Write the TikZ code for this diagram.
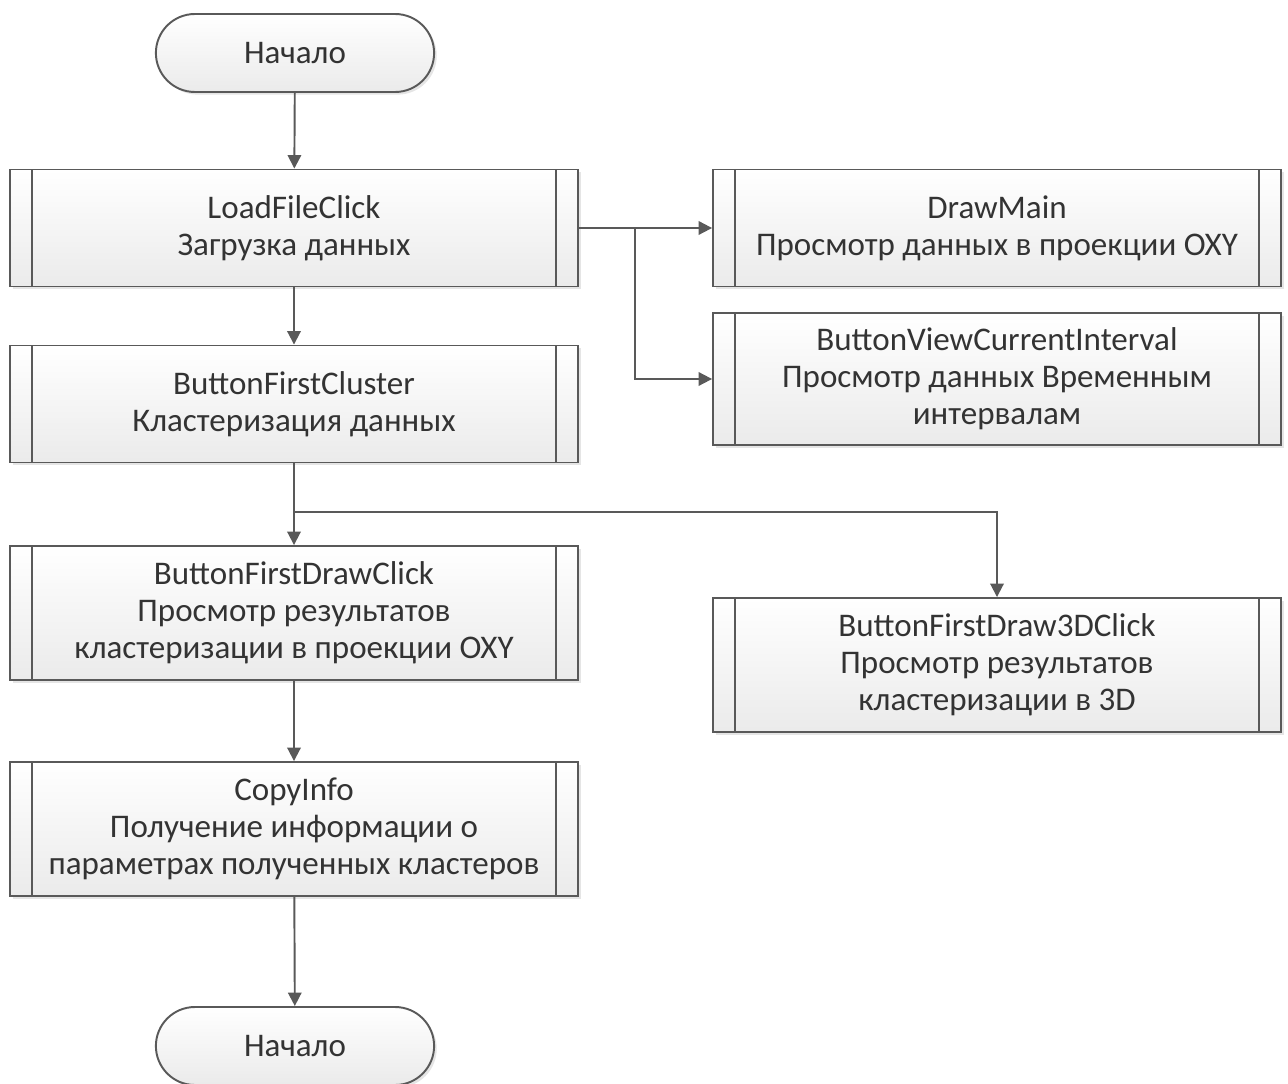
\documentclass[tikz,border=0pt]{standalone}
\usepackage{fontspec}
\setmainfont{Carlito}
\usetikzlibrary{shapes.misc,arrows.meta,shadows}
\definecolor{linegray}{HTML}{595959}
\definecolor{textgray}{HTML}{333333}
\tikzset{
  base/.style={draw=linegray, line width=1.1pt, top color=white, bottom color=black!8,
    text=textgray, font=\fontsize{18.8}{21}\selectfont, align=center,
    drop shadow={shadow xshift=1.5pt, shadow yshift=-1.5pt, fill=black!20}},
  term/.style={base, rounded rectangle, minimum width=5.8cm, minimum height=1.56cm},
  proc/.style={base, rectangle, inner sep=0pt, minimum width=11.36cm, minimum height=#1,
    path picture={\draw[linegray, line width=1.1pt]
      ([xshift=0.44cm]path picture bounding box.north west) -- ([xshift=0.44cm]path picture bounding box.south west)
      ([xshift=-0.44cm]path picture bounding box.north east) -- ([xshift=-0.44cm]path picture bounding box.south east);}},
  proc/.default=2.34cm,
  conn/.style={draw=linegray, line width=1.1pt, -{Triangle[length=0.27cm, width=0.27cm]}}
}
\begin{document}
\begin{tikzpicture}[x=0.02cm,y=-0.02cm]
  \useasboundingbox (0,0) rectangle (1288,1084);
  \node[term] (start) at (295,53) {Начало};
  \node[proc] (load) at (294,228) {LoadFileClick\\Загрузка данных};
  \node[proc] (cluster) at (294,404) {ButtonFirstCluster\\Кластеризация данных};
  \node[proc=2.68cm] (draw2d) at (294,613) {ButtonFirstDrawClick\\Просмотр результатов\\кластеризации в проекции OXY};
  \node[proc=2.68cm] (copy) at (294,829) {CopyInfo\\Получение информации о\\параметрах полученных кластеров};
  \node[term] (finish) at (295,1046) {Начало};
  \node[proc] (drawmain) at (997,228) {DrawMain\\Просмотр данных в проекции OXY};
  \node[proc=2.64cm] (viewint) at (997,379) {ButtonViewCurrentInterval\\Просмотр данных Временным\\интервалам};
  \node[proc=2.68cm] (draw3d) at (997,665) {ButtonFirstDraw3DClick\\Просмотр результатов\\кластеризации в 3D};
  \coordinate (split1) at (635,228);
  \coordinate (split2) at (294,512);
  \draw[conn] (start) -- (load);
  \draw[conn] (load) -- (cluster);
  \draw[conn] (load) -- (drawmain);
  \draw[conn] (split1) |- (viewint);
  \draw[conn] (cluster) -- (draw2d);
  \draw[conn] (split2) -| (draw3d);
  \draw[conn] (draw2d) -- (copy);
  \draw[conn] (copy) -- (finish);
\end{tikzpicture}
\end{document}
